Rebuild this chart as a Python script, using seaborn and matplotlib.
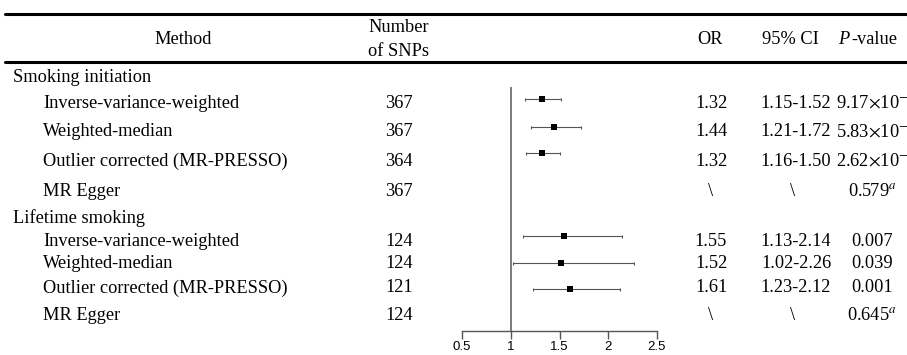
import matplotlib
matplotlib.use("Agg")
import matplotlib.pyplot as plt
import seaborn as sns
import pandas as pd

# data
groups = ["Smoking initiation", "Lifetime smoking"]
methods = ["Inverse-variance-weighted", "Weighted-median",
           "Outlier corrected (MR-PRESSO)", "MR Egger"]
n_snps = [[367, 367, 364, 367], [124, 124, 121, 124]]
or_vals = [[1.32, 1.44, 1.32, None], [1.55, 1.52, 1.61, None]]
ci_low = [[1.15, 1.21, 1.16, None], [1.13, 1.02, 1.23, None]]
ci_high = [[1.52, 1.72, 1.50, None], [2.14, 2.26, 2.12, None]]
p_text = [[r"9.17$\times$10$^{-}$", r"5.83$\times$10$^{-}$", r"2.62$\times$10$^{-}$", r"0.579$^{a}$"],
          ["0.007", "0.039", "0.001", r"0.645$^{a}$"]]
x_ticks = [0.5, 1, 1.5, 2, 2.5]

sns.set_theme(style="white")
plt.rcParams["font.family"] = ["Liberation Serif", "DejaVu Serif"]
plt.rcParams["mathtext.fontset"] = "stix"
plt.rcParams["text.color"] = "black"

W, H = 907, 355
fig = plt.figure(figsize=(W / 100, H / 100), dpi=100)
bg = fig.add_axes([0, 0, 1, 1])
bg.set_xlim(0, W)
bg.set_ylim(H, 0)
bg.axis("off")

fs = 13.2
# layout (pixel rows)
group_y = [78, 218]
text_y = [[103, 132, 161, 191], [241, 264, 288, 315]]
mark_y = [[99, 127, 153, 181], [236, 263, 289, 314]]

bg.plot([5, W], [14, 14], color="black", lw=2.2)
bg.plot([5, W], [62, 62], color="black", lw=2.2)
bg.text(183, 40, "Method", ha="center", va="center", fontsize=fs)
bg.text(399, 28, "Number", ha="center", va="center", fontsize=fs)
bg.text(399, 52, "of SNPs", ha="center", va="center", fontsize=fs)
bg.text(710, 40, "OR", ha="center", va="center", fontsize=fs)
bg.text(790, 40, "95% CI", ha="center", va="center", fontsize=fs)
bg.text(838, 40, "P", ha="left", va="center", fontsize=fs, style="italic")
bg.text(851, 40, "-value", ha="left", va="center", fontsize=fs)

rows = []
for g in range(2):
    bg.text(13, group_y[g], groups[g], ha="left", va="center", fontsize=fs)
    for i in range(4):
        ty = text_y[g][i]
        bg.text(43, ty, methods[i], ha="left", va="center", fontsize=fs)
        bg.text(399, ty, str(n_snps[g][i]), ha="center", va="center", fontsize=fs)
        if or_vals[g][i] is None:
            bg.text(711, ty, "\\", ha="center", va="center", fontsize=fs)
            bg.text(793, ty, "\\", ha="center", va="center", fontsize=fs)
        else:
            bg.text(711, ty, f"{or_vals[g][i]:.2f}", ha="center", va="center", fontsize=fs)
            bg.text(796, ty, f"{ci_low[g][i]:.2f}-{ci_high[g][i]:.2f}",
                    ha="center", va="center", fontsize=fs)
            rows.append(dict(y=mark_y[g][i], OR=or_vals[g][i],
                             lo=ci_low[g][i], hi=ci_high[g][i]))
        bg.text(872, ty, p_text[g][i], ha="center", va="center", fontsize=fs)

df = pd.DataFrame(rows)

# forest panel: x 0.5 -> px 462, 2.5 -> px 657
scale = (657 - 462) / 2.0
ax_l, ax_r = 450, 670
ax_t, ax_b = 87, 331
ax = fig.add_axes([ax_l / W, 1 - ax_b / H, (ax_r - ax_l) / W, (ax_b - ax_t) / H])
ax.set_xlim(0.5 - (462 - ax_l) / scale, 2.5 + (ax_r - 657) / scale)
ax.set_ylim(ax_b, ax_t)
ax.patch.set_alpha(0)

ax.axvline(1, color="#666666", lw=1.2)
ax.hlines(df["y"], df["lo"], df["hi"], color="#555555", lw=0.8)
ax.vlines(df["lo"], df["y"] - 1.5, df["y"] + 1.5, color="#555555", lw=0.8)
ax.vlines(df["hi"], df["y"] - 1.5, df["y"] + 1.5, color="#555555", lw=0.8)
sns.scatterplot(data=df, x="OR", y="y", ax=ax, marker="s", s=15,
                color="black", edgecolor="black", linewidth=0, zorder=3)

for s in ["top", "right", "left"]:
    ax.spines[s].set_visible(False)
ax.spines["bottom"].set_color("#555555")
ax.spines["bottom"].set_linewidth(1.0)
ax.spines["bottom"].set_bounds(0.5, 2.5)
ax.set_xticks(x_ticks)
ax.set_xticklabels(["0.5", "1", "1.5", "2", "2.5"], family="Liberation Sans", fontsize=9.5)
ax.tick_params(axis="x", bottom=True, direction="out", length=6, width=1.0,
               color="#555555", pad=1, labelcolor="black")
ax.set_yticks([])
ax.set_xlabel("")
ax.set_ylabel("")

fig.savefig("out.png", dpi=100)
